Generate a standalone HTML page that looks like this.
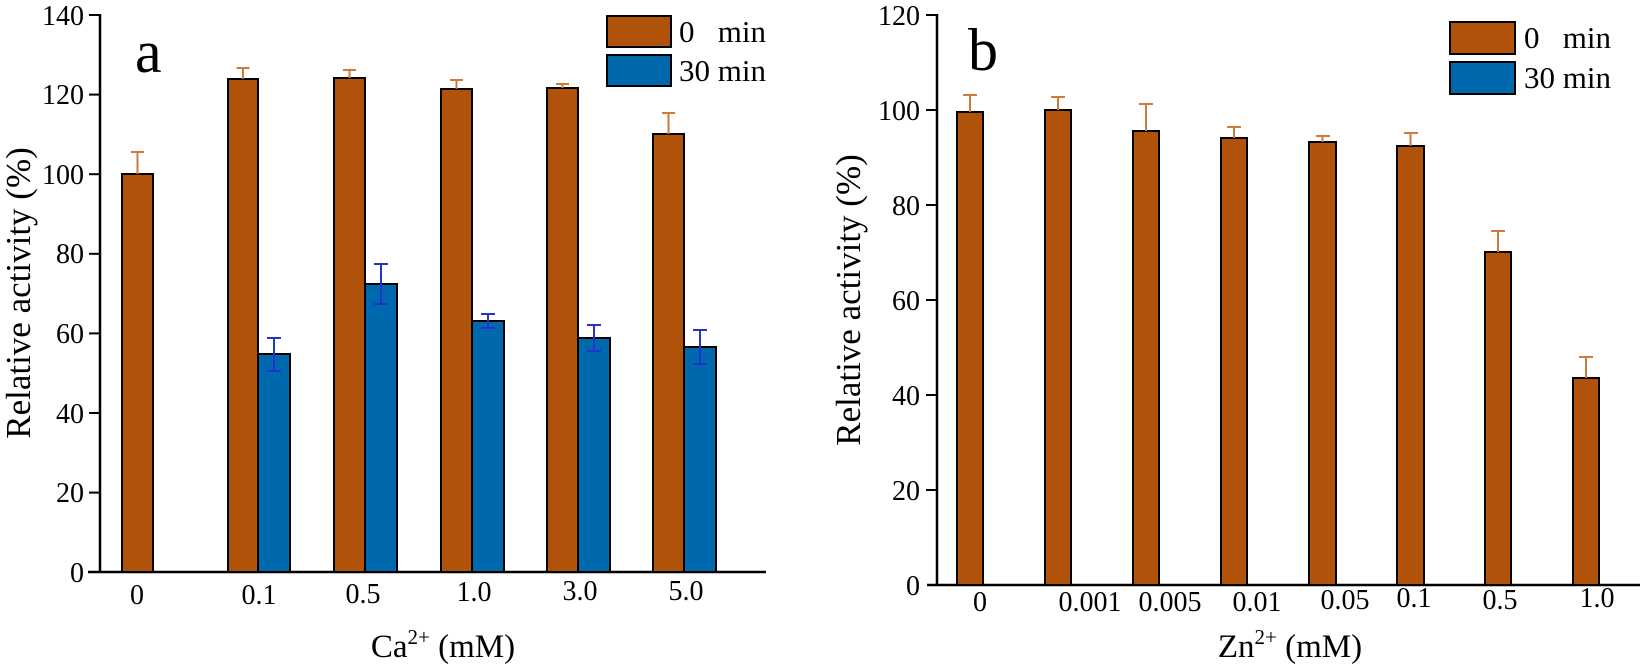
<!DOCTYPE html>
<html><head><meta charset="utf-8"><style>
html,body{margin:0;padding:0;background:#fff;}
svg{display:block;font-family:"Liberation Serif",serif;}
</style></head><body>
<svg width="1650" height="664" viewBox="0 0 1650 664" xmlns="http://www.w3.org/2000/svg">
<g id="left">
<line x1="100" y1="14" x2="100" y2="572" stroke="#000" stroke-width="2.5"/>
<line x1="88" y1="572" x2="766" y2="572" stroke="#000" stroke-width="2.5"/>
<g stroke="#000" stroke-width="2">
<line x1="89" y1="15" x2="100" y2="15"/><line x1="89" y1="94.6" x2="100" y2="94.6"/>
<line x1="89" y1="174.2" x2="100" y2="174.2"/><line x1="89" y1="253.8" x2="100" y2="253.8"/>
<line x1="89" y1="333.4" x2="100" y2="333.4"/><line x1="89" y1="413" x2="100" y2="413"/>
<line x1="89" y1="492.6" x2="100" y2="492.6"/>
</g>
<g font-size="28" text-anchor="end">
<text x="84" y="25">140</text><text x="84" y="104">120</text><text x="84" y="184">100</text>
<text x="84" y="263">80</text><text x="84" y="343">60</text><text x="84" y="423">40</text>
<text x="84" y="502">20</text><text x="84" y="582">0</text>
</g>
<text transform="translate(30,293) rotate(-90)" font-size="35" text-anchor="middle">Relative activity (%)</text>
<text x="135" y="72" font-size="60">a</text>
<g fill="#B0520A" stroke="#000" stroke-width="2">
<rect x="122" y="174" width="31" height="398"/>
<rect x="228" y="79" width="30" height="493"/>
<rect x="334" y="78" width="31" height="494"/>
<rect x="441" y="89" width="31" height="483"/>
<rect x="547" y="88" width="31" height="484"/>
<rect x="653" y="134" width="31" height="438"/>
</g>
<g fill="#0068AD" stroke="#000" stroke-width="2">
<rect x="258" y="354" width="32" height="218"/>
<rect x="365" y="284" width="32" height="288"/>
<rect x="472" y="321" width="32" height="251"/>
<rect x="578" y="338" width="32" height="234"/>
<rect x="684" y="347" width="32" height="225"/>
</g>
<g stroke="#D07A3A" stroke-width="2">
<path d="M137.5 174V152M131 152h13"/>
<path d="M243 79V68M236.5 68h13"/>
<path d="M349.5 78V70M343 70h13"/>
<path d="M456.5 89V80M450 80h13"/>
<path d="M562.5 88V84M556 84h13"/>
<path d="M668.5 134V113M662 113h13"/>
</g>
<g stroke="#2233CC" stroke-width="2">
<path d="M274 338V371M267 338h14M267 371h14"/>
<path d="M381 264V304M374 264h14M374 304h14"/>
<path d="M488 314V328M481 314h14M481 328h14"/>
<path d="M594 325V351M587 325h14M587 351h14"/>
<path d="M700 330V364M693 330h14M693 364h14"/>
</g>
<g font-size="28" text-anchor="middle">
<text x="137" y="604">0</text><text x="259" y="604">0.1</text><text x="363" y="603">0.5</text>
<text x="474" y="601">1.0</text><text x="580" y="600">3.0</text><text x="686" y="600">5.0</text>
</g>
<text x="443" y="657" font-size="33" text-anchor="middle">Ca<tspan dy="-13" font-size="21">2+</tspan><tspan dy="13"> (mM)</tspan></text>
<rect x="607" y="16" width="64" height="31" fill="#B0520A" stroke="#000" stroke-width="2"/>
<rect x="607" y="55" width="64" height="31" fill="#0068AD" stroke="#000" stroke-width="2"/>
<text x="679" y="42" font-size="31" xml:space="preserve">0   min</text>
<text x="679" y="81" font-size="31">30 min</text>
</g>

<g id="right">
<line x1="937" y1="14" x2="937" y2="585" stroke="#000" stroke-width="2.5"/>
<line x1="927" y1="585" x2="1640" y2="585" stroke="#000" stroke-width="2.5"/>
<g stroke="#000" stroke-width="2">
<line x1="926" y1="15" x2="937" y2="15"/><line x1="926" y1="110" x2="937" y2="110"/>
<line x1="926" y1="205" x2="937" y2="205"/><line x1="926" y1="300" x2="937" y2="300"/>
<line x1="926" y1="395" x2="937" y2="395"/><line x1="926" y1="490" x2="937" y2="490"/>
</g>
<g font-size="28" text-anchor="end">
<text x="920" y="25">120</text><text x="920" y="120">100</text><text x="920" y="215">80</text>
<text x="920" y="310">60</text><text x="920" y="405">40</text><text x="920" y="500">20</text>
<text x="920" y="595">0</text>
</g>
<text transform="translate(860,300) rotate(-90)" font-size="35" text-anchor="middle">Relative activity (%)</text>
<text x="968" y="70" font-size="60">b</text>
<g fill="#B0520A" stroke="#000" stroke-width="2">
<rect x="957" y="112" width="26" height="473"/>
<rect x="1045" y="110" width="26" height="475"/>
<rect x="1133" y="131" width="26" height="454"/>
<rect x="1221" y="138" width="26" height="447"/>
<rect x="1309" y="142" width="27" height="443"/>
<rect x="1397" y="146" width="27" height="439"/>
<rect x="1485" y="252" width="26" height="333"/>
<rect x="1573" y="378" width="26" height="207"/>
</g>
<g stroke="#D07A3A" stroke-width="2">
<path d="M970 112V95M963 95h14"/>
<path d="M1058 110V97M1051 97h14"/>
<path d="M1146 131V104M1139 104h14"/>
<path d="M1234 138V127M1227 127h14"/>
<path d="M1322.5 142V136M1316 136h14"/>
<path d="M1410.5 146V133M1404 133h14"/>
<path d="M1498 252V231M1491 231h14"/>
<path d="M1586 378V357M1579 357h14"/>
</g>
<g font-size="28" text-anchor="middle">
<text x="980" y="611">0</text><text x="1090" y="611">0.001</text><text x="1170" y="611">0.005</text>
<text x="1257" y="611">0.01</text><text x="1345" y="609">0.05</text><text x="1414" y="607">0.1</text>
<text x="1500" y="609">0.5</text><text x="1597" y="607">1.0</text>
</g>
<text x="1290" y="657" font-size="33" text-anchor="middle">Zn<tspan dy="-13" font-size="21">2+</tspan><tspan dy="13"> (mM)</tspan></text>
<rect x="1450" y="22" width="65" height="32" fill="#B0520A" stroke="#000" stroke-width="2"/>
<rect x="1450" y="62" width="65" height="32" fill="#0068AD" stroke="#000" stroke-width="2"/>
<text x="1524" y="48" font-size="31" xml:space="preserve">0   min</text>
<text x="1524" y="88" font-size="31">30 min</text>
</g>
</svg>
</body></html>
